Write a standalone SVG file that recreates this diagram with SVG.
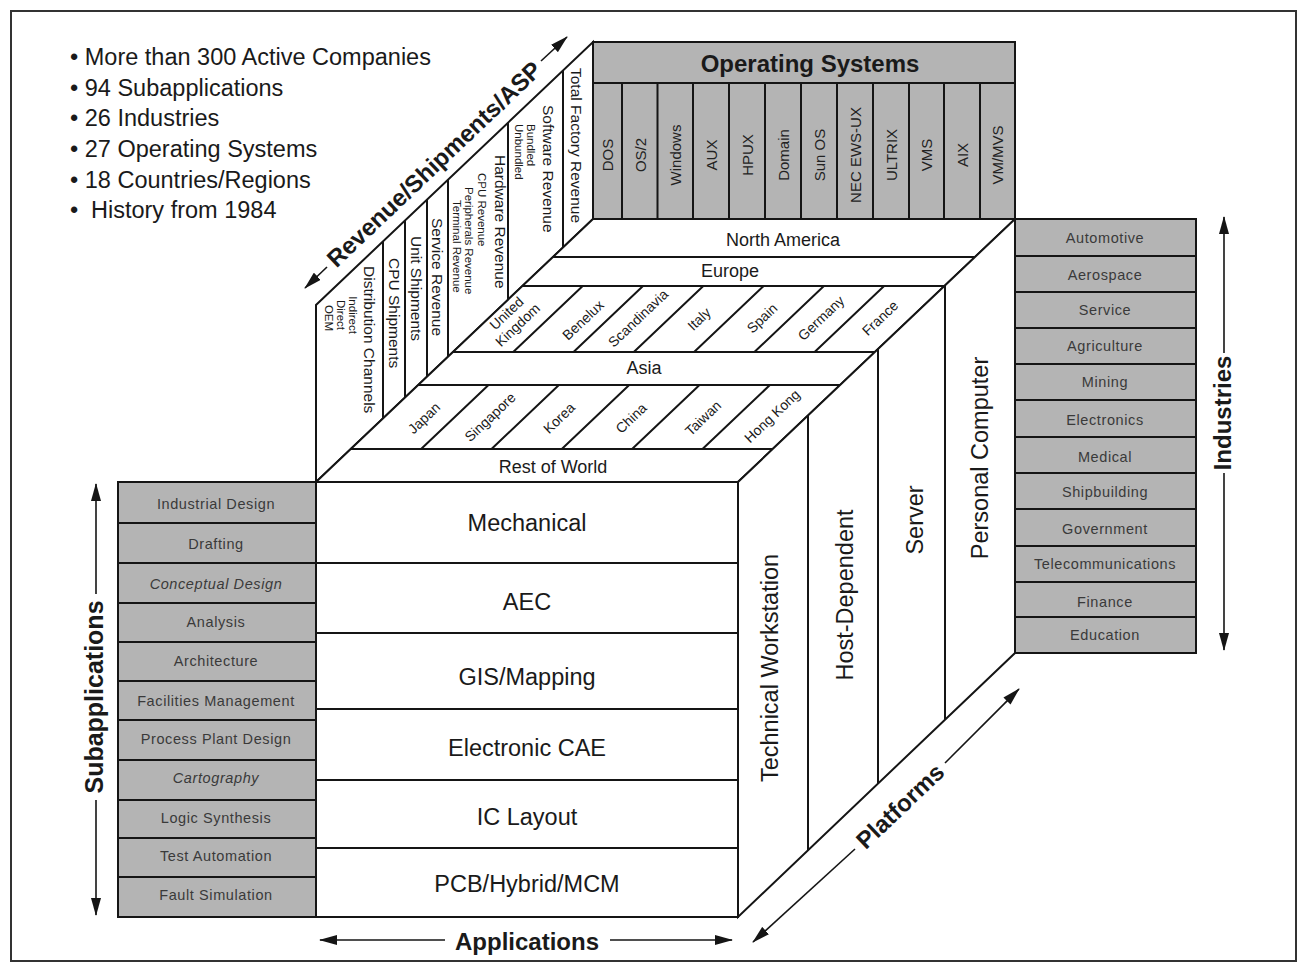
<svg xmlns="http://www.w3.org/2000/svg" width="1304" height="971" viewBox="0 0 1304 971">
<defs>
<style>
.ln{stroke:#151515;stroke-width:2;fill:none}
.wf{fill:#fff;stroke:#151515;stroke-width:2}
.gb{fill:#b4b4b4;stroke:#151515;stroke-width:2}
.t{font-family:"Liberation Sans",Arial,Helvetica,sans-serif;fill:#1a1a1a}
.c{text-anchor:middle;dominant-baseline:central}
.s{dominant-baseline:central}
.g{font-size:14.5px;fill:#3a3a3a;letter-spacing:0.6px}
.os{font-size:15px;fill:#222}
.big{font-size:23.5px}
.bd{font-weight:bold;font-size:24px}
.rv{font-size:15.5px}
.sm{font-size:11.5px}
.cn{font-size:14px}
.rg{font-size:18px}
.arr{stroke:#151515;stroke-width:1.6;fill:none}
</style>
<marker id="ah" viewBox="0 0 18 10" refX="17" refY="5" markerWidth="18" markerHeight="10" markerUnits="userSpaceOnUse" orient="auto">
<path d="M0,0 L18,5 L0,10 Z" fill="#151515"/>
</marker>
</defs>
<rect x="0" y="0" width="1304" height="971" fill="#fff"/>
<rect x="11" y="11" width="1285" height="950" fill="none" stroke="#333" stroke-width="2"/>

<g id="facts">
<text class="t big" x="70" y="65">• More than 300 Active Companies</text>
<text class="t big" x="70" y="96">• 94 Subapplications</text>
<text class="t big" x="70" y="126">• 26 Industries</text>
<text class="t big" x="70" y="157">• 27 Operating Systems</text>
<text class="t big" x="70" y="188">• 18 Countries/Regions</text>
<text class="t big" x="70" y="218">•<tspan x="91">History from 1984</tspan></text>
</g>

<g id="operating-systems">
<rect class="gb" x="593" y="42" width="422" height="177"/>
<line class="ln" x1="593" y1="83" x2="1015" y2="83"/>
<path class="ln" d="M622,83V219 M657.5,83V219 M693,83V219 M729,83V219 M765,83V219 M801,83V219 M837,83V219 M873,83V219 M909,83V219 M944,83V219 M980,83V219"/>
<text class="t bd c" x="810" y="63">Operating Systems</text>
<g class="t os c">
<text transform="translate(607.5,155) rotate(-90)">DOS</text>
<text transform="translate(640,155) rotate(-90)">OS/2</text>
<text transform="translate(675.5,155) rotate(-90)">Windows</text>
<text transform="translate(711,155) rotate(-90)">AUX</text>
<text transform="translate(747,155) rotate(-90)">HPUX</text>
<text transform="translate(783,155) rotate(-90)">Domain</text>
<text transform="translate(819,155) rotate(-90)">Sun OS</text>
<text transform="translate(855,155) rotate(-90)">NEC EWS-UX</text>
<text transform="translate(891,155) rotate(-90)">ULTRIX</text>
<text transform="translate(926.5,155) rotate(-90)">VMS</text>
<text transform="translate(962,155) rotate(-90)">AIX</text>
<text transform="translate(997.5,155) rotate(-90)">VM/MVS</text>
</g>
</g>

<g id="revenue-panel">
<polygon class="wf" points="316,482 316,305 593,42 593,219"/>
<path class="ln" d="M383,241.4V418.4 M405,220.5V397.5 M427,199.6V376.6 M448,179.7V356.7 M508,122.7V299.7 M563,70.5V247.5"/>
<g class="t">
<text class="rv s" transform="translate(576,68) rotate(90)">Total Factory Revenue</text>
<text class="rv s" transform="translate(548,105) rotate(90)">Software Revenue</text>
<text class="sm s" transform="translate(531,124) rotate(90)">Bundled</text>
<text class="sm s" transform="translate(519,124) rotate(90)">Unbundled</text>
<text class="rv s" transform="translate(500,155) rotate(90)">Hardware Revenue</text>
<text class="sm s" transform="translate(482,173) rotate(90)">CPU Revenue</text>
<text class="sm s" transform="translate(469,187) rotate(90)">Peripherals Revenue</text>
<text class="sm s" transform="translate(457,200) rotate(90)">Terminal Revenue</text>
<text class="rv s" transform="translate(437,218) rotate(90)">Service Revenue</text>
<text class="rv s" transform="translate(416,236) rotate(90)">Unit Shipments</text>
<text class="rv s" transform="translate(394,258) rotate(90)">CPU Shipments</text>
<text class="rv s" transform="translate(369,266) rotate(90)">Distribution Channels</text>
<text class="sm c" transform="translate(353,315) rotate(90)">Indirect</text>
<text class="sm c" transform="translate(341,315) rotate(90)">Direct</text>
<text class="sm c" transform="translate(329,318) rotate(90)">OEM</text>
</g>
</g>

<g id="regions-top">
<polygon class="wf" points="316,482 738,482 1015,219 593,219"/>
<path class="ln" d="M350.8,449H772.8 M418.2,385H840.2 M452.9,352H874.9 M522.4,286H944.4 M553,257H975"/>
<path class="ln" d="M421.1,449L488.5,385 M491.5,449L558.9,385 M561.8,449L629.2,385 M632.1,449L699.5,385 M702.5,449L769.9,385"/>
<path class="ln" d="M513.2,352L582.7,286 M573.5,352L643,286 M633.8,352L703.3,286 M694.1,352L763.6,286 M754.4,352L823.9,286 M814.6,352L884.1,286"/>
<g class="t rg c">
<text x="783" y="240">North America</text>
<text x="730" y="271">Europe</text>
<text x="644" y="368">Asia</text>
<text x="553" y="467">Rest of World</text>
</g>
<g class="t cn c">
<text transform="translate(512,319) rotate(-43.5)"><tspan x="0" y="-8">United</tspan><tspan x="0" y="8">Kingdom</tspan></text>
<text transform="translate(583,320) rotate(-43.5)">Benelux</text>
<text transform="translate(638,318) rotate(-43.5)">Scandinavia</text>
<text transform="translate(699,319) rotate(-43.5)">Italy</text>
<text transform="translate(762,318) rotate(-43.5)">Spain</text>
<text transform="translate(821,318) rotate(-43.5)">Germany</text>
<text transform="translate(880,318) rotate(-43.5)">France</text>
<text transform="translate(424,418) rotate(-43.5)">Japan</text>
<text transform="translate(490,417) rotate(-43.5)">Singapore</text>
<text transform="translate(559,418) rotate(-43.5)">Korea</text>
<text transform="translate(631,418) rotate(-43.5)">China</text>
<text transform="translate(703,418) rotate(-43.5)">Taiwan</text>
<text transform="translate(772,416) rotate(-43.5)">Hong Kong</text>
</g>
</g>

<g id="platforms-side">
<polygon class="wf" points="738,482 1015,219 1015,653 738,917"/>
<path class="ln" d="M808,415.5V850 M878,349V783.5 M945,285.5V720"/>
<g class="t big c">
<text transform="translate(770,668) rotate(-90)">Technical Workstation</text>
<text transform="translate(845,595) rotate(-90)">Host-Dependent</text>
<text transform="translate(915,520) rotate(-90)">Server</text>
<text transform="translate(980,458) rotate(-90)">Personal Computer</text>
</g>
</g>

<g id="applications-front">
<rect class="wf" x="316" y="482" width="422" height="435"/>
<path class="ln" d="M316,563H738 M316,633H738 M316,709H738 M316,780H738 M316,848H738"/>
<g class="t big c">
<text x="527" y="523">Mechanical</text>
<text x="527" y="602">AEC</text>
<text x="527" y="677">GIS/Mapping</text>
<text x="527" y="748">Electronic CAE</text>
<text x="527" y="817">IC Layout</text>
<text x="527" y="884">PCB/Hybrid/MCM</text>
</g>
</g>

<g id="subapplications">
<rect class="gb" x="118" y="482" width="198" height="435"/>
<path class="ln" d="M118,523H316 M118,563H316 M118,603H316 M118,642H316 M118,681H316 M118,720H316 M118,760H316 M118,800H316 M118,838H316 M118,877H316"/>
<g class="t g c">
<text x="216" y="504">Industrial Design</text>
<text x="216" y="544">Drafting</text>
<text x="216" y="584" font-style="italic">Conceptual Design</text>
<text x="216" y="622">Analysis</text>
<text x="216" y="661">Architecture</text>
<text x="216" y="701">Facilities Management</text>
<text x="216" y="739">Process Plant Design</text>
<text x="216" y="778" font-style="italic">Cartography</text>
<text x="216" y="818">Logic Synthesis</text>
<text x="216" y="856">Test Automation</text>
<text x="216" y="895">Fault Simulation</text>
</g>
</g>

<g id="industries">
<rect class="gb" x="1015" y="219" width="181" height="434"/>
<path class="ln" d="M1015,256H1196 M1015,292H1196 M1015,328H1196 M1015,364H1196 M1015,400H1196 M1015,437H1196 M1015,473H1196 M1015,509H1196 M1015,546H1196 M1015,582H1196 M1015,617H1196"/>
<g class="t g c">
<text x="1105" y="238">Automotive</text>
<text x="1105" y="275">Aerospace</text>
<text x="1105" y="310">Service</text>
<text x="1105" y="346">Agriculture</text>
<text x="1105" y="382">Mining</text>
<text x="1105" y="420">Electronics</text>
<text x="1105" y="457">Medical</text>
<text x="1105" y="492">Shipbuilding</text>
<text x="1105" y="529">Government</text>
<text x="1105" y="564">Telecommunications</text>
<text x="1105" y="602">Finance</text>
<text x="1105" y="635">Education</text>
</g>
</g>

<g id="connectors">
<line class="arr" x1="327" y1="267" x2="305" y2="288" marker-end="url(#ah)"/>
<line class="arr" x1="541" y1="61" x2="567" y2="37" marker-end="url(#ah)"/>
<line class="arr" x1="445" y1="940" x2="320" y2="940" marker-end="url(#ah)"/>
<line class="arr" x1="610" y1="940" x2="732" y2="940" marker-end="url(#ah)"/>
<line class="arr" x1="855" y1="849" x2="753" y2="942" marker-end="url(#ah)"/>
<line class="arr" x1="945" y1="763" x2="1019" y2="689" marker-end="url(#ah)"/>
<line class="arr" x1="1224" y1="353" x2="1224" y2="217" marker-end="url(#ah)"/>
<line class="arr" x1="1224" y1="473" x2="1224" y2="650" marker-end="url(#ah)"/>
<line class="arr" x1="96" y1="594" x2="96" y2="484" marker-end="url(#ah)"/>
<line class="arr" x1="96" y1="800" x2="96" y2="915" marker-end="url(#ah)"/>
</g>

<g id="axis-labels" class="t bd c">
<text transform="translate(434,164) rotate(-43.6)">Revenue/Shipments/ASP</text>
<text x="527" y="941">Applications</text>
<text transform="translate(900,806) rotate(-43.5)">Platforms</text>
<text transform="translate(1222,413) rotate(-90)">Industries</text>
<text transform="translate(94,697) rotate(-90)" style="font-size:25px">Subapplications</text>
</g>
</svg>
